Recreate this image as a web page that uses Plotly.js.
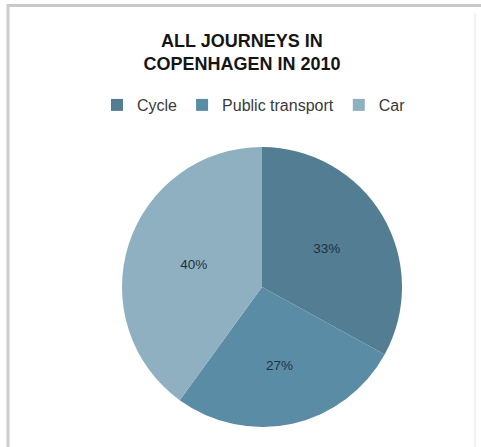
<!DOCTYPE html>
<html>
<head>
<meta charset="utf-8">
<script src="https://cdn.plot.ly/plotly-3.0.1.min.js"></script>
<style>html,body{margin:0;padding:0;background:#fff;}#chart{width:481px;height:447px;}</style>
</head>
<body>
<div id="chart"></div>
<script>
const modes = ["Cycle", "Public transport", "Car"];
const shares = [33, 27, 40];
const colors = ["#537d92", "#5b8ca6", "#8fb0c1"];
const chartTitle = "ALL JOURNEYS IN<br>COPENHAGEN IN 2010";

const W = 481, H = 447;
const trace = {
  type: "pie",
  labels: modes,
  values: shares,
  sort: false,
  direction: "clockwise",
  rotation: 0,
  marker: {colors: colors, line: {width: 0}},
  textinfo: "percent",
  texttemplate: "%{value}%",
  textposition: "inside",
  insidetextorientation: "horizontal",
  insidetextfont: {family: "Liberation Sans", size: 13.5, color: "#1d3140"},
  hoverinfo: "label+percent",
  domain: {x: [122/W, 402/W], y: [1 - 427/H, 1 - 147/H]}
};

const layout = {
  width: W, height: H,
  margin: {l: 0, r: 0, t: 0, b: 0},
  paper_bgcolor: "#ffffff",
  showlegend: true,
  title: {
    text: chartTitle,
    font: {family: "Liberation Sans", size: 18, color: "#151515", weight: "bold"},
    x: 0.503, xanchor: "center", xref: "paper",
    y: 1 - 47/H, yanchor: "top", yref: "container"
  },
  legend: {
    orientation: "h",
    x: 0.528, xanchor: "center",
    y: 1 - 105/H, yanchor: "middle",
    font: {family: "Liberation Sans", size: 16, color: "#3a3a3a"},
    itemwidth: 30,
    traceorder: "normal"
  },
  shapes: [
    {type: "line", xref: "paper", yref: "paper", x0: 7/W, x1: 1, y0: 1 - 5.5/H, y1: 1 - 5.5/H, line: {color: "#c9c9c9", width: 3}},
    {type: "line", xref: "paper", yref: "paper", x0: 8/W, x1: 8/W, y0: 0, y1: 1 - 4/H, line: {color: "#cdcdcd", width: 3}},
    {type: "line", xref: "paper", yref: "paper", x0: 475/W, x1: 475/W, y0: 0, y1: 1 - 13/H, line: {color: "#eeeeee", width: 1.5}}
  ]
};

Plotly.newPlot("chart", [trace], layout, {displayModeBar: false, staticPlot: true});
</script>
</body>
</html>
